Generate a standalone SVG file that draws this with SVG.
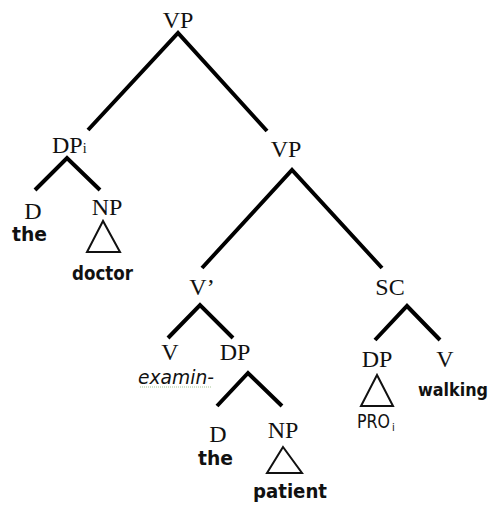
<svg xmlns="http://www.w3.org/2000/svg" width="493" height="506" viewBox="0 0 493 506">
  <style>
    .cat { font-family: "Liberation Serif", "Times New Roman", serif; font-size: 24px; fill: #111; text-anchor: middle; }
    .sub { font-size: 14px; }
    .word { font-family: "DejaVu Sans", "Liberation Sans", sans-serif; font-size: 19px; font-weight: bold; fill: #111; }
    .plain { font-weight: normal; }
    .edge { stroke: #000; stroke-width: 4; stroke-linecap: butt; fill: none; }
    .tri { stroke: #111; stroke-width: 2; fill: none; stroke-linejoin: miter; }
  </style>
  <rect width="493" height="506" fill="#fff"/>

  <!-- branches of the tree -->
  <g id="connectors">
    <path class="edge" d="M88,130 L178,33 L267,131"/>
    <path class="edge" d="M35,190 L67,158 L100,190"/>
    <path class="edge" d="M202,268 L292,170 L382,268"/>
    <path class="edge" d="M168,338 L200,305 L233,338"/>
    <path class="edge" d="M217,406 L248,373 L282,406"/>
    <path class="edge" d="M375,340 L407,306 L440,340"/>
  </g>

  <g id="vp-top"><text class="cat" x="178" y="28">VP</text></g>

  <g id="dp-i"><text class="cat" x="52" y="153" style="text-anchor:start">DP<tspan class="sub">i</tspan></text></g>

  <g id="d-the1">
    <text class="cat" x="33" y="219">D</text>
    <text class="word" x="12" y="241" textLength="35" lengthAdjust="spacingAndGlyphs">the</text>
  </g>

  <g id="np-doctor">
    <text class="cat" x="107" y="215">NP</text>
    <polygon class="tri" points="103,221 87,252 120,252"/>
    <text class="word" x="72" y="280" textLength="61" lengthAdjust="spacingAndGlyphs">doctor</text>
  </g>

  <g id="vp-low"><text class="cat" x="286" y="157">VP</text></g>

  <g id="v-bar"><text class="cat" x="202" y="295">V’</text></g>

  <g id="v-examin">
    <text class="cat" x="170" y="360">V</text>
    <text class="word plain" x="138" y="384" font-style="italic" textLength="76" lengthAdjust="spacingAndGlyphs">examin-</text>
    <line x1="140" y1="387" x2="212" y2="387" stroke="#7fae6a" stroke-width="1" stroke-dasharray="1,1" opacity="0.7"/>
  </g>

  <g id="dp-obj"><text class="cat" x="235" y="360">DP</text></g>

  <g id="d-the2">
    <text class="cat" x="218" y="442">D</text>
    <text class="word" x="198" y="465" textLength="35" lengthAdjust="spacingAndGlyphs">the</text>
  </g>

  <g id="np-patient">
    <text class="cat" x="283" y="438">NP</text>
    <polygon class="tri" points="283,447 267,473 302,473"/>
    <text class="word" x="253" y="498" textLength="74" lengthAdjust="spacingAndGlyphs">patient</text>
  </g>

  <g id="sc"><text class="cat" x="390" y="295">SC</text></g>

  <g id="dp-pro">
    <text class="cat" x="377" y="367">DP</text>
    <polygon class="tri" points="377,375 361,406 393,406"/>
    <text class="word plain" x="357" y="428" textLength="33" lengthAdjust="spacingAndGlyphs">PRO</text>
    <text class="word plain" x="392" y="431" style="font-size:10px">i</text>
  </g>

  <g id="v-walking">
    <text class="cat" x="445" y="367">V</text>
    <text class="word" x="418" y="396" style="font-size:17.5px" textLength="70" lengthAdjust="spacingAndGlyphs">walking</text>
  </g>
</svg>
